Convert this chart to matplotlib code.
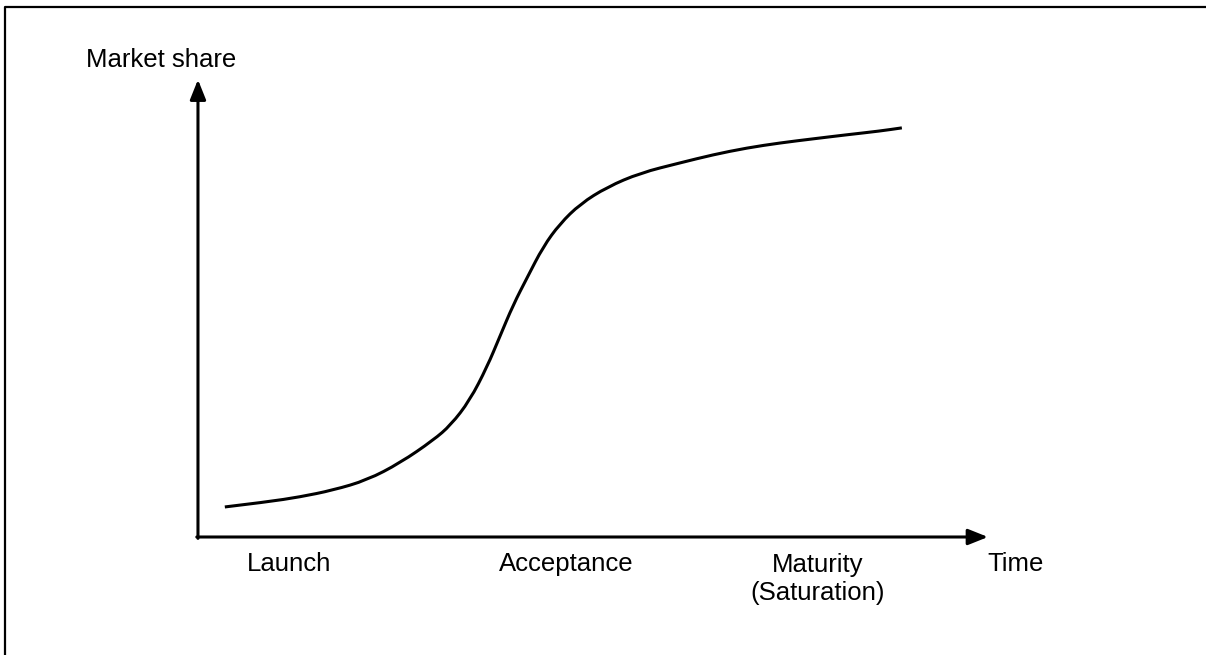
import matplotlib
matplotlib.use('Agg')
import matplotlib.pyplot as plt
from matplotlib.lines import Line2D
from matplotlib.path import Path
from matplotlib.patches import PathPatch

plt.rcParams['font.family'] = ['Liberation Sans', 'DejaVu Sans']

# S-curve (time 0..100, market share 0..100)
time = [3.4, 8.7, 12.9, 17.1, 21.4, 25.6, 29.8, 32.0, 34.4, 36.6, 38.2, 39.9,
        41.7, 43.7, 45.8, 48.4, 51.8, 56.0, 61.0, 65.2, 69.5, 73.7, 77.9,
        82.2, 86.3, 89.1]
share = [6.6, 7.7, 8.8, 10.3, 12.5, 16.3, 21.3, 24.6, 30.0, 37.4, 44.0, 51.0,
         57.1, 63.8, 68.8, 73.2, 76.9, 80.0, 82.2, 84.0, 85.5, 86.6, 87.5,
         88.4, 89.2, 89.9]

stage_labels = ['Launch', 'Acceptance', 'Maturity\n(Saturation)']
stage_pos = [11.5, 46.6, 78.5]

fig = plt.figure(figsize=(12.06, 6.55), dpi=100)
ax = fig.add_axes([0, 0, 1, 1])
ax.axis('off')
ax.set_xlim(-25.06, 127.6)
ax.set_ylim(-25.93, 118.0)

# outer frame (only left and top edges visible)
fig.add_artist(Line2D([5 / 1206, 5 / 1206, 1], [0, 1 - 7 / 655, 1 - 7 / 655],
                      color='black', lw=1.6, transform=fig.transFigure))

# axes with arrows
arrow = dict(arrowstyle='-|>,head_length=0.6,head_width=0.24', lw=2.2,
             color='black', mutation_scale=20, shrinkA=0, shrinkB=0)
ax.annotate('', xy=(0, 100.5), xytext=(0, -0.3), arrowprops=arrow)
ax.annotate('', xy=(100, 0), xytext=(-0.15, 0), arrowprops=arrow)

# smooth curve through the read points (quadratic segments via midpoints)
pts = list(zip(time, share))
verts = [pts[0]]
codes = [Path.MOVETO]
for i in range(1, len(pts) - 1):
    mid = ((pts[i][0] + pts[i + 1][0]) / 2, (pts[i][1] + pts[i + 1][1]) / 2)
    verts += [pts[i], mid]
    codes += [Path.CURVE3, Path.CURVE3]
verts.append(pts[-1])
codes.append(Path.LINETO)
ax.add_patch(PathPatch(Path(verts, codes), facecolor='none',
                       edgecolor='black', lw=2.2, capstyle='butt'))

fs = 18.5
ax.text(-4.7, 103.3, 'Market share', ha='center', va='baseline', fontsize=fs)
ax.text(99.9, -7.5, 'Time', ha='left', va='baseline', fontsize=fs)
for lab, x in zip(stage_labels, stage_pos):
    nlines = lab.count('\n')
    ax.text(x, -7.5 - 6.35 * nlines, lab, ha='center', va='baseline',
            fontsize=fs, multialignment='center', linespacing=1.2)

fig.savefig('out.png', dpi=100)
